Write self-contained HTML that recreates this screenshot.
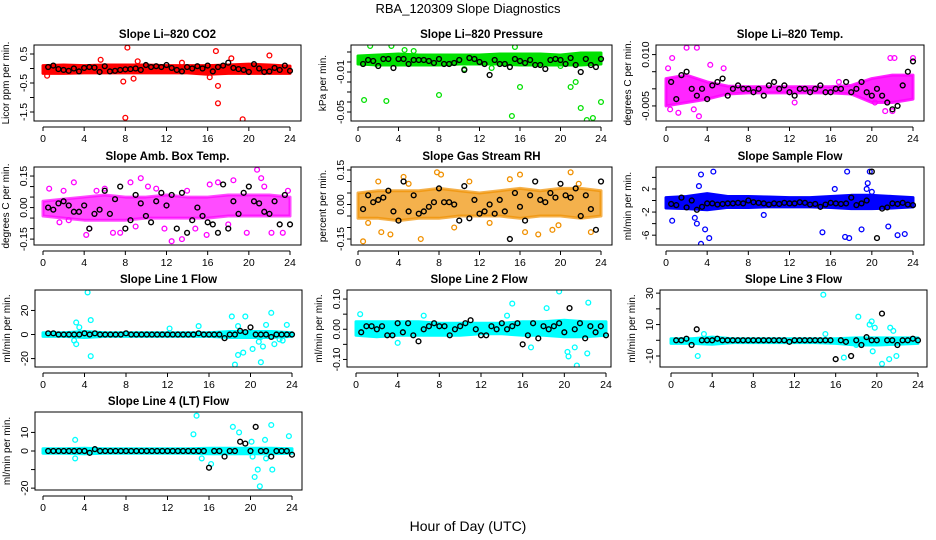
<!DOCTYPE html>
<html><head><meta charset="utf-8"><style>
body{margin:0;background:#fff;}
svg{display:block;font-family:"Liberation Sans",sans-serif;}
</style></head><body>
<svg id="chart" width="936" height="540" viewBox="0 0 936 540">
<text x="468" y="13" text-anchor="middle" font-size="13">RBA_120309  Slope Diagnostics</text>
<text x="468" y="531" text-anchor="middle" font-size="14">Hour of Day (UTC)</text>
</svg>
<script>
const xTicks = [0,4,8,12,16,20,24];
const bandHours = [0,2,4,6,8,10,12,14,16,18,20,22,24];

const co2BandLo = [-0.17,-0.17,-0.15,-0.15,-0.15,-0.15,-0.15,-0.15,-0.2,-0.17,-0.17,-0.17,-0.17];
const co2BandHi = [0.1,0.12,0.1,0.12,0.12,0.12,0.1,0.1,0.1,0.12,0.15,0.12,0.08];
const co2OutX = [8.2,7.8,8.0,8.8,16.8,17.0,17.0,19.4,22.0,5.6,18.3,16.2,0.4,9.2,13.5];
const co2OutY = [0.72,-0.45,-1.7,-0.35,0.6,-0.6,-1.2,-1.75,0.45,0.3,0.35,-0.3,-0.25,0.25,0.2];
const co2Black = [0.05,0.1,-0.02,-0.05,-0.08,0,-0.1,0.02,0.05,0.03,-0.12,0.08,-0.1,-0.08,-0.05,-0.03,-0.02,0,-0.05,0.12,0.05,0.08,0.05,0.12,0.02,-0.05,-0.1,0.05,0,0.08,0,0.1,-0.1,0.05,0.1,0.2,0.02,-0.02,-0.05,-0.12,0.15,0,-0.12,-0.1,0.02,-0.05,0.1,-0.08];

const presBandLo = [-0.002,-0.003,-0.003,-0.003,-0.003,-0.002,-0.002,-0.002,-0.003,-0.003,-0.003,-0.003,-0.002];
const presBandHi = [0.006,0.007,0.008,0.007,0.007,0.007,0.007,0.008,0.008,0.008,0.007,0.009,0.009];
const presOutX = [0.6,2.8,8.0,15.2,16.0,21.0,21.5,22.0,22.6,23.2,24.0,1.2,3.3,15.5,4.6,1.8,20.0,10.5,13.2,5.5];
const presOutY = [-0.038,-0.039,-0.033,-0.054,-0.025,-0.025,-0.02,-0.046,-0.058,-0.056,-0.04,0.016,0.016,0.015,0.012,-0.002,-0.004,-0.007,-0.006,0.011];
const presBlack = [-0.002,0.002,0.001,-0.004,0.003,0.003,-0.006,0.003,0.003,-0.002,0.002,0.002,0.002,0.001,-0.001,0.003,-0.002,-0.002,-0.001,0.002,-0.008,0.004,0.003,0,-0.002,-0.013,0.002,-0.002,-0.002,-0.005,0.003,0.001,-0.001,0.002,-0.003,-0.003,-0.007,0.002,0.003,0.002,-0.002,0.004,-0.003,-0.01,0.003,-0.003,-0.005,0.003];

const tempBandLo = [-0.005,-0.004,-0.003,-0.0015,-0.0012,-0.0012,-0.0012,-0.0012,-0.0012,-0.0015,-0.004,-0.004,-0.003];
const tempBandHi = [0.003,0.004,0.002,0.0008,0.0006,0.0006,0.0006,0.0006,0.0006,0.001,0.003,0.004,0.004];
const tempOutX = [2.0,3.0,3.2,1.2,0.6,0.2,4.3,21.8,22.2,24.0,21.3,22.0,20.3,5.6,2.7,0.4,12.5,16.8];
const tempOutY = [0.012,0.012,-0.008,-0.007,0.009,0.006,0.007,0.009,0.009,0.009,-0.0065,-0.0065,-0.004,0.006,-0.006,-0.006,-0.004,0.002];
const tempBlack = [0.002,-0.003,0.004,0.005,0,-0.002,0,-0.003,0.001,0.002,0.003,-0.002,0,0.001,0,0,-0.001,0,-0.002,0.001,0.002,0,0.001,-0.001,-0.002,0,0,-0.001,0,0.001,-0.001,-0.001,0,0,0.002,-0.001,0,0.002,-0.001,-0.002,0,-0.002,-0.004,-0.006,-0.005,0.001,0.005,0.008];

const ambBandLo = [-0.04,-0.05,-0.06,-0.06,-0.06,-0.05,-0.05,-0.05,-0.05,-0.04,-0.04,-0.04,-0.04];
const ambBandHi = [0.03,0.04,0.05,0.06,0.05,0.05,0.06,0.05,0.05,0.06,0.06,0.06,0.05];
const ambOutX = [3.0,4.2,5.2,6.8,7.5,9.5,10.2,11.8,12.5,13.5,14.8,15.9,16.2,17.0,18.5,19.8,20.8,21.2,22.2,23.3,0.6,1.6,2.5,4.5,8.5,6,11,14,18,21.5,23.8,2,9];
const ambOutY = [0.12,-0.13,0.08,-0.12,-0.12,0.14,0.1,-0.1,-0.16,-0.15,-0.1,-0.13,0.11,0.12,0.13,-0.12,0.18,0.14,-0.12,-0.12,0.09,-0.07,-0.06,-0.1,0.12,0.09,0.09,0.08,-0.08,0.1,0.08,0.08,-0.09];
const ambBlack = [0,-0.01,0.02,0.03,0.01,-0.02,-0.02,0.01,-0.1,-0.03,-0.01,0.08,-0.03,0.04,0.1,-0.1,-0.06,0.06,0.02,-0.04,-0.07,0.03,0.07,0.01,0.06,-0.1,0.07,-0.12,-0.06,0,-0.04,-0.07,-0.08,-0.12,0.11,-0.1,0.03,-0.03,0.07,0.1,0.03,0.02,-0.02,-0.03,0.03,-0.08,0.06,-0.08];

const rhBandLo = [-0.06,-0.06,-0.07,-0.06,-0.06,-0.05,-0.05,-0.05,-0.06,-0.05,-0.05,-0.06,-0.05];
const rhBandHi = [0.05,0.06,0.06,0.06,0.07,0.06,0.05,0.06,0.07,0.06,0.07,0.07,0.06];
const rhOutX = [0.5,1.0,2.3,4.5,6.2,7.8,8.2,16.0,16.5,17.8,19.2,21.0,21.8,23.0,3.2,15.0,13.0,11.0,5,9.5,19.8,2];
const rhOutY = [-0.16,-0.08,-0.12,0.12,-0.15,0.14,0.13,0.13,-0.12,-0.13,-0.11,0.14,0.09,-0.12,-0.13,0.11,-0.08,0.1,0.09,-0.1,-0.09,0.1];
const rhBlack = [-0.02,0.04,0.01,0.02,0.03,0.06,-0.03,-0.07,0.1,-0.03,0.04,-0.04,-0.03,-0.01,0.01,0.07,0.01,0.01,0,-0.07,0.08,-0.06,0.02,-0.04,-0.03,0,-0.04,0.02,-0.03,-0.15,0.05,-0.01,-0.07,0.04,0.1,0.02,0.01,0.05,0.03,0.09,0.04,0.03,0.07,-0.05,0.04,-0.02,-0.11,0.1];

const flowBandLo = [-1.3,-1.4,-1.6,-1.2,-1.2,-1.1,-1.1,-1.1,-1.2,-1.4,-1.4,-1.3,-1.1];
const flowBandHi = [0.5,0.7,1.2,0.7,0.7,0.6,0.5,0.5,0.7,0.9,0.9,0.7,0.5];
const flowOutX = [3.4,4.6,17.6,19.6,19.8,3.0,3.8,3.4,4.2,0.6,15.2,17.4,17.8,19.0,21.6,22.5,23.2,3.2,19.5,20.0,2.8,16.4,9.5];
const flowOutY = [4.5,5.0,5.0,3.0,5.0,-4.0,-5.0,-7.5,-6.5,-3.5,-5.5,-6.3,-6.5,-5.0,-4.5,-6.0,-5.8,2.5,2.0,1.5,-3,2,-2.5];
const flowBlack = [-0.6,-0.8,0.5,-1.2,0,-1.6,-1.1,-0.5,-0.5,-0.7,-0.6,-0.5,-0.5,-0.4,-0.5,0,-0.3,-0.4,-0.5,-0.7,-0.5,-0.6,-0.4,-0.5,-0.5,-0.3,-0.4,-0.7,-0.6,-1.1,-0.7,-0.4,-0.5,-0.6,-0.5,0.5,-0.8,-0.5,0,5,-6.5,-1.4,-1.2,-0.5,-0.6,-0.4,-0.7,-0.8];

const l1BandLo = [-1.5,-1.5,-2.5,-1.5,-1.5,-1.5,-1.5,-1.5,-1.5,-2.5,-2.5,-2.5,-1.5];
const l1BandHi = [1.5,1.5,2.5,1.5,1.5,1.5,1.5,1.5,1.5,2.5,2.5,2.5,1.5];
const l1OutX = [4.3,4.6,3.2,3.2,3.0,4.6,3.5,18.5,18.8,19.3,19.5,18.2,20.2,21.0,21.2,22.0,21.5,21.0,22.3,23.1,23.5,15.0,20.8,22.8,12.2,18.8];
const l1OutY = [35,-18,10,-8,-5,12,6,-25,-17,-15,15,15,-12,-23,-10,18,8,-2,-8,-5,8,7,-6,-4,5,7];
const l1Black = [1,1,0,0,0,0,0,1,0,1,0,0,0,0,0,1,0,0,0,0,0,0,0,0,0,0,0,0,0,1,0,0,0,0,-3,0,0,3,2,6,0,0,0,-2,0,0,0,0];

const l2BandLo = [-0.02,-0.025,-0.02,-0.02,-0.02,-0.02,-0.015,-0.015,-0.02,-0.02,-0.025,-0.025,-0.02];
const l2BandHi = [0.025,0.025,0.025,0.025,0.02,0.02,0.02,0.02,0.025,0.025,0.03,0.025,0.025];
const l2OutX = [19.5,15.0,22.3,18.3,20.3,20.4,21.2,21.0,22.2,16.8,4.0,0.4,6.5,14.5];
const l2OutY = [0.125,0.085,0.088,0.07,-0.075,-0.09,-0.12,-0.06,-0.08,-0.06,-0.045,0.05,0.045,0.045];
const l2Black = [-0.01,0.01,0.01,0.0,0.01,-0.02,-0.02,0.02,-0.01,0.02,-0.02,-0.04,0.0,0.01,0.02,0.01,0.01,-0.02,0.0,0.01,0.02,0.03,0.0,-0.02,-0.02,0.01,0.0,0.02,0.0,0.01,0.02,-0.05,-0.02,0.02,-0.03,0.01,0.0,0.01,0.02,-0.01,0.07,0.0,0.02,-0.03,0.01,-0.01,0.01,-0.02];

const l3BandLo = [-2,-2,-2.5,-1.5,-1.5,-1.5,-1.5,-1.5,-2,-3,-3,-2.5,-2];
const l3BandHi = [1,1,2,1,1,1,1,1,1,1.5,1.5,1.5,1.5];
const l3OutX = [14.8,18.2,19.3,19.5,19.8,21.3,21.6,2.6,16.8,20.5,21.2,21.9,19.6,18.0,3.2,15.0];
const l3OutY = [29,15,10,12,8,8,6,-10,-11,-15,-12,-10,-7,-3,4,4];
const l3Black = [0,0,1,-3,7,0,0,0,1,0,0,0,0,0,0,0,0,0,0,0,0,0,-1,0,0,0,0,0,0,0,0,-12,0,-1,-10,0,-3,2,0,0,17,0,0,-3,0,0,1,0];

const l4BandLo = [-1.2,-1.2,-1.5,-1.2,-1.2,-1.2,-1.2,-1.2,-1.5,-1.5,-1.5,-1.5,-1.2];
const l4BandHi = [1.2,1.2,1.5,1.2,1.2,1.2,1.2,1.2,1.5,1.5,1.5,1.5,1.2];
const l4OutX = [14.8,14.5,18.3,18.9,20.1,20.7,20.4,20.9,21.4,22.0,22.1,21.5,23.7,16.2,15.3,3.1,3.1,20.2];
const l4OutY = [19,9,13,10,5,-10,-14,-19,6,14,-10,-4,8,-7,-4,6,-4,-3];
const l4Black = [0,0,0,0,0,0,0,0,-1,1,0,0,0,0,0,0,0,0,0,0,0,0,0,0,0,0,0,0,0,0,0,-9,0,0,-3,0,0,5,4,0,13,0,0,-3,0,0,0,-2];

const blackHours = [0.5,1,1.5,2,2.5,3,3.5,4,4.5,5,5.5,6,6.5,7,7.5,8,8.5,9,9.5,10,10.5,11,11.5,12,12.5,13,13.5,14,14.5,15,15.5,16,16.5,17,17.5,18,18.5,19,19.5,20,20.5,21,21.5,22,22.5,23,23.5,24];

const NS = 'http://www.w3.org/2000/svg';
const svg = document.getElementById('chart');
function mk(tag, attrs, parent){const e=document.createElementNS(NS,tag);for(const k in attrs)e.setAttribute(k,attrs[k]);(parent||svg).appendChild(e);return e;}

const panels = [
 {key:'co2',title:'Slope Li\u2013820 CO2',ylab:'Licor ppm per min.',L:34,R:301,T:45,B:121,x0:43,x1:290,ymin:-1.81,ymax:0.81,ticks:[0.5,0,-0.5,-1,-1.5],labels:{'0.5':'0.5','-0.5':'-0.5','-1.5':'-1.5'},col:'#ff0000',op:1,lo:co2BandLo,hi:co2BandHi,ox:co2OutX,oy:co2OutY,bk:co2Black},
 {key:'pressure',title:'Slope Li\u2013820 Pressure',ylab:'kPa per min.',L:351,R:612,T:45,B:121,x0:358,x1:601,ymin:-0.059,ymax:0.017,ticks:[0.01,0,-0.01,-0.02,-0.03,-0.04,-0.05],labels:{'-0.01':'-0.01','-0.05':'-0.05'},col:'#00e000',op:1,lo:presBandLo,hi:presBandHi,ox:presOutX,oy:presOutY,bk:presBlack},
 {key:'li820-temp',title:'Slope Li\u2013820 Temp.',ylab:'degrees C per min.',L:656,R:924,T:45,B:121,x0:666,x1:913,ymin:-0.0094,ymax:0.0128,ticks:[0.01,0.005,0,-0.005],labels:{'0.01':'0.010','-0.005':'-0.005'},col:'#ff00ff',op:0.85,lo:tempBandLo,hi:tempBandHi,ox:tempOutX,oy:tempOutY,bk:tempBlack},
 {key:'amb-box-temp',title:'Slope Amb. Box Temp.',ylab:'degrees C per min.',L:34,R:301,T:167,B:245,x0:43,x1:290,ymin:-0.178,ymax:0.193,ticks:[0.15,0.1,0.05,0,-0.05,-0.1,-0.15],labels:{'0.15':'0.15','0':'0.00','-0.15':'-0.15'},col:'#ff00ff',op:0.7,lo:ambBandLo,hi:ambBandHi,ox:ambOutX,oy:ambOutY,bk:ambBlack},
 {key:'gas-stream-rh',title:'Slope Gas Stream RH',ylab:'percent per min.',L:351,R:612,T:167,B:245,x0:358,x1:601,ymin:-0.176,ymax:0.163,ticks:[0.15,0.1,0.05,0,-0.05,-0.1,-0.15],labels:{'0.15':'0.15','0':'0.00','-0.15':'-0.15'},col:'#f09000',op:0.7,lo:rhBandLo,hi:rhBandHi,ox:rhOutX,oy:rhOutY,bk:rhBlack},
 {key:'sample-flow',title:'Slope Sample Flow',ylab:'ml/min per min.',L:656,R:924,T:167,B:245,x0:666,x1:913,ymin:-7.7,ymax:5.8,ticks:[4,2,0,-2,-4,-6],labels:{'2':'2','-2':'-2','-6':'-6'},col:'#0000ff',op:1,lo:flowBandLo,hi:flowBandHi,ox:flowOutX,oy:flowOutY,bk:flowBlack},
 {key:'line1-flow',title:'Slope Line 1 Flow',ylab:'ml/min per min.',L:35,R:302,T:290,B:367,x0:43,x1:292,ymin:-27,ymax:37,ticks:[20,0,-20],labels:{'20':'20','0':'0','-20':'-20'},col:'#00ffff',op:1,lo:l1BandLo,hi:l1BandHi,ox:l1OutX,oy:l1OutY,bk:l1Black},
 {key:'line2-flow',title:'Slope Line 2 Flow',ylab:'ml/min per min.',L:347,R:611,T:290,B:367,x0:356,x1:606,ymin:-0.125,ymax:0.13,ticks:[0.1,0.05,0,-0.05,-0.1],labels:{'0.1':'0.10','0':'0.00','-0.1':'-0.10'},col:'#00ffff',op:1,lo:l2BandLo,hi:l2BandHi,ox:l2OutX,oy:l2OutY,bk:l2Black},
 {key:'line3-flow',title:'Slope Line 3 Flow',ylab:'ml/min per min.',L:660,R:927,T:290,B:367,x0:671,x1:918,ymin:-17,ymax:32,ticks:[30,20,10,0,-10],labels:{'30':'30','10':'10','-10':'-10'},col:'#00ffff',op:1,lo:l3BandLo,hi:l3BandHi,ox:l3OutX,oy:l3OutY,bk:l3Black},
 {key:'line4-flow',title:'Slope Line 4 (LT) Flow',ylab:'ml/min per min.',L:35,R:302,T:412,B:490,x0:43,x1:292,ymin:-21,ymax:21,ticks:[10,0,-10,-20],labels:{'10':'10','0':'0','-20':'-20'},col:'#00ffff',op:1,lo:l4BandLo,hi:l4BandHi,ox:l4OutX,oy:l4OutY,bk:l4Black}
];

panels.forEach(p=>{
  const g = mk('g',{});
  
  
  const xs = h => p.x0 + (p.x1-p.x0)*h/24;
  const ys = v => p.B - (p.B-p.T)*(v-p.ymin)/(p.ymax-p.ymin);
  const t = mk('text',{x:(p.L+p.R)/2,y:p.T-7,'text-anchor':'middle','font-size':11.5,'font-weight':'bold'},g);
  t.textContent = p.title;
  
  
  const cid = 'clip-'+p.key;
  const cp = mk('clipPath',{id:cid},g); mk('rect',{x:p.L,y:p.T,width:p.R-p.L,height:p.B-p.T},cp);
  const plot = mk('g',{'clip-path':'url(#'+cid+')'},g);
  let d = '';
  bandHours.forEach((h,i)=>{ d += (i?'L':'M')+xs(h)+','+ys(p.hi[i]); });
  for(let i=bandHours.length-1;i>=0;i--){ d += 'L'+xs(bandHours[i])+','+ys(p.lo[i]); }
  const band = mk('path',{d:d+'Z',fill:p.col,'fill-opacity':p.op,stroke:p.col,'stroke-opacity':p.op,'stroke-width':3,'stroke-linejoin':'round'},plot);
  
  
  p.ox.forEach((h,i)=>{
    const c = mk('circle',{cx:xs(h),cy:ys(p.oy[i]),r:2.4,fill:'none',stroke:p.col,'stroke-width':1.3},plot);
    
    
  });
  p.bk.forEach((v,i)=>{
    const c = mk('circle',{cx:xs(blackHours[i]),cy:ys(v),r:2.4,fill:'none',stroke:'#000','stroke-width':1.4},plot);
    
    
  });
  const box = mk('rect',{x:p.L,y:p.T,width:p.R-p.L,height:p.B-p.T,fill:'none',stroke:'#000','stroke-width':1},g);
  
  
  const ay = p.B+6;
  const xa = mk('line',{x1:xs(0),x2:xs(24),y1:ay,y2:ay,stroke:'#000'},g);
  
  
  xTicks.forEach(h=>{
    mk('line',{x1:xs(h),x2:xs(h),y1:ay,y2:ay+4,stroke:'#000'},g);
    const tl = mk('text',{x:xs(h),y:ay+15,'text-anchor':'middle','font-size':10.5},g);
    tl.textContent = h;
    
    
  });
  p.ticks.forEach(v=>{
    const y = ys(v);
    mk('line',{x1:p.L-4,x2:p.L,y1:y,y2:y,stroke:'#000'},g);
    const lab = p.labels[String(v)];
    if(lab!==undefined){
      const tl = mk('text',{x:p.L-7,y:y,'text-anchor':'middle','font-size':10.5,transform:'rotate(-90 '+(p.L-7)+' '+y+')'},g);
      tl.textContent = lab;
      
      
    }
  });
  const yl = p.L-25, ym=(p.T+p.B)/2;
  const yt = mk('text',{x:yl,y:ym,'text-anchor':'middle','font-size':10,transform:'rotate(-90 '+yl+' '+ym+')'},g);
  yt.textContent = p.ylab;
  
  
});
</script>
</body></html>
